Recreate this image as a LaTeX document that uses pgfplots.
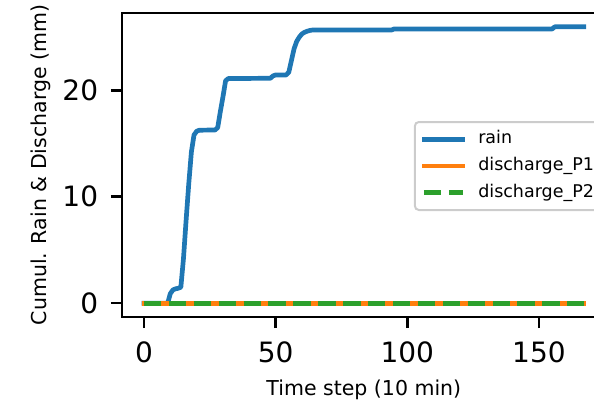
\documentclass[border=0pt]{standalone}
\usepackage{fontspec}
\setmainfont{DejaVu Sans}
\usepackage{pgfplots}
\pgfplotsset{compat=1.18}
\usepackage{pgfplotstable}
\definecolor{tabblue}{HTML}{1F77B4}
\definecolor{taborange}{HTML}{FF7F0E}
\definecolor{tabgreen}{HTML}{2CA02C}

\pgfplotstableread{
x y
0 0
9 0
10 0.9
11 1.25
12 1.35
13 1.4
14 1.5
15 4.2
16 7.8
17 11.2
18 14.2
19 15.8
20 16.15
21 16.25
27 16.27
28 16.5
29 18.0
30 19.4
31 20.9
32 21.1
48 21.13
49 21.35
50 21.44
54 21.44
55 21.7
56 22.8
57 23.9
58 24.6
59 25.0
60 25.3
61 25.45
62 25.55
63 25.62
64 25.66
94 25.66
95 25.76
155 25.76
156 25.96
167 25.96
}\rain

\pgfplotstableread{
x y
0 0
167 0
}\dischargeA

\pgfplotstableread{
x y
0 0
167 0
}\dischargeB

\begin{document}
\begin{tikzpicture}
\begin{axis}[
  scale only axis,
  width=483.7pt, height=304pt,
  xmin=-8.35, xmax=175.35,
  ymin=-1.298, ymax=27.26,
  xtick={0,50,100,150}, ytick={0,10,20},
  xtick pos=bottom, ytick pos=left,
  tick align=outside,
  major tick length=11pt,
  every tick/.style={black, line width=2.5pt},
  axis line style={line width=2.5pt},
  /pgf/number format/assume math mode=true,
  tick label style={font=\fontsize{28}{34}\selectfont, inner sep=0pt},
  xticklabel style={anchor=north},
  yticklabel style={anchor=east},
  xticklabel shift=13.7pt,
  yticklabel shift=12.7pt,
  label style={font=\fontsize{20.5}{25}\selectfont},
  xlabel={Time step (10 min)},
  ylabel={Cumul. Rain \& Discharge (mm)},
  xlabel style={at={(axis description cs:0.5,-0.2566)}, anchor=base},
  ylabel style={at={(axis description cs:-0.1557,0.5)}, anchor=base, rotate=0},
  legend style={
    at={(rel axis cs:1,0.5)}, anchor=east, xshift=-4pt, yshift=-1pt,
    draw=black!20, line width=2pt, rounded corners=4pt,
    fill=white, fill opacity=0.8, text opacity=1,
    font=\fontsize{17.5}{21}\selectfont,
    inner xsep=6.7pt, inner ysep=8.7pt,
    nodes={inner sep=0pt, text height=13pt, text depth=4pt},
    row sep=9.8pt, column sep=13pt,
  },
  legend cell align=left,
  legend image code/.code={\draw[#1] (0pt,0pt) -- (39pt,0pt);},
]
\coordinate (O) at (rel axis cs:0,0);
\addplot[tabblue, line width=4.7pt, line cap=rect, line join=round] table {\rain};
\addlegendentry{rain}
\addplot[taborange, line width=4.7pt, line cap=rect] table {\dischargeA};
\addlegendentry{discharge\_P1}
\addplot[tabgreen, line width=4.7pt, dash pattern=on 17.4pt off 7.5pt] table {\dischargeB};
\addlegendentry{discharge\_P2}
\end{axis}
\pgfresetboundingbox
\useasboundingbox ([shift={(-122pt,-85pt)}]O) rectangle ([shift={(472pt,317pt)}]O);
\end{tikzpicture}
\end{document}
